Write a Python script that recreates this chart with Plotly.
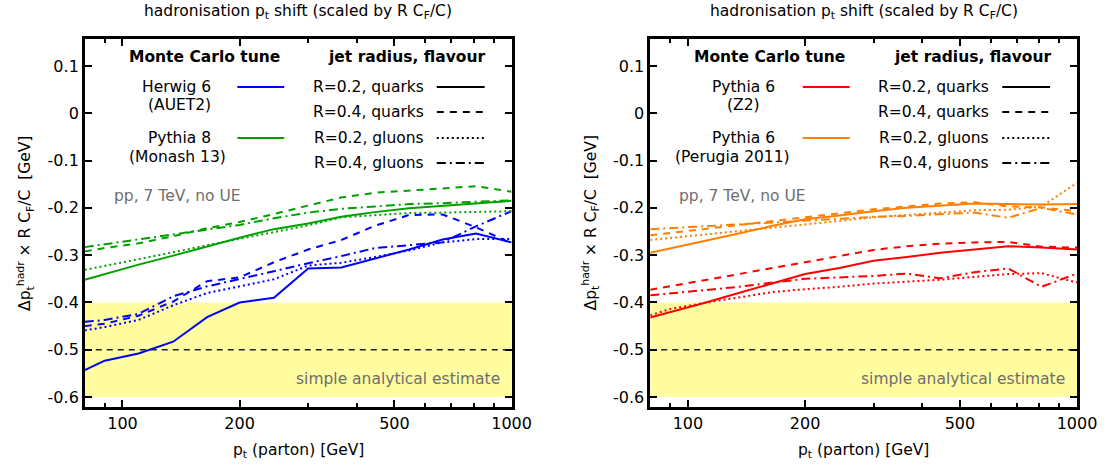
import math
import plotly.graph_objects as go

# parton transverse momentum grid [GeV]
PT = [80, 90, 110, 135, 165, 200, 245, 300, 365, 445, 545, 665, 810, 1000]

# hadronisation shift x R C_F/C [GeV] -- Herwig 6 (AUET2)
herwig_q02 = [-0.543, -0.523, -0.508, -0.483, -0.431, -0.400, -0.390, -0.328, -0.326, -0.307, -0.288, -0.267, -0.254, -0.273]
herwig_q04 = [-0.450, -0.445, -0.428, -0.398, -0.355, -0.347, -0.315, -0.288, -0.268, -0.238, -0.215, -0.214, -0.241, -0.275]
herwig_g02 = [-0.459, -0.452, -0.437, -0.406, -0.380, -0.366, -0.351, -0.322, -0.316, -0.304, -0.290, -0.273, -0.266, -0.266]
herwig_g04 = [-0.441, -0.437, -0.424, -0.387, -0.366, -0.351, -0.334, -0.317, -0.302, -0.285, -0.279, -0.273, -0.239, -0.207]

# Pythia 8 (Monash 13)
py8_q02 = [-0.352, -0.340, -0.320, -0.301, -0.281, -0.263, -0.245, -0.233, -0.219, -0.209, -0.201, -0.196, -0.191, -0.185]
py8_q04 = [-0.292, -0.285, -0.275, -0.260, -0.243, -0.230, -0.213, -0.195, -0.178, -0.168, -0.164, -0.159, -0.154, -0.166]
py8_g02 = [-0.331, -0.323, -0.308, -0.294, -0.279, -0.266, -0.251, -0.237, -0.220, -0.215, -0.211, -0.210, -0.208, -0.207]
py8_g04 = [-0.283, -0.277, -0.266, -0.256, -0.245, -0.236, -0.222, -0.210, -0.202, -0.197, -0.192, -0.190, -0.187, -0.184]

# Pythia 6 (Z2)
z2_q02 = [-0.432, -0.421, -0.401, -0.380, -0.359, -0.340, -0.327, -0.312, -0.304, -0.295, -0.288, -0.281, -0.284, -0.288]
z2_q04 = [-0.373, -0.366, -0.353, -0.340, -0.327, -0.314, -0.301, -0.289, -0.281, -0.276, -0.273, -0.272, -0.282, -0.284]
z2_g02 = [-0.427, -0.414, -0.401, -0.389, -0.378, -0.372, -0.367, -0.360, -0.356, -0.352, -0.346, -0.340, -0.338, -0.358]
z2_g04 = [-0.385, -0.381, -0.374, -0.367, -0.358, -0.350, -0.347, -0.344, -0.339, -0.349, -0.336, -0.328, -0.367, -0.339]

# Pythia 6 (Perugia 2011)
p11_q02 = [-0.295, -0.286, -0.270, -0.254, -0.238, -0.224, -0.216, -0.207, -0.200, -0.195, -0.191, -0.192, -0.193, -0.192]
p11_q04 = [-0.258, -0.253, -0.245, -0.236, -0.228, -0.219, -0.211, -0.203, -0.197, -0.191, -0.188, -0.197, -0.199, -0.207]
p11_g02 = [-0.268, -0.264, -0.257, -0.249, -0.242, -0.235, -0.227, -0.220, -0.215, -0.210, -0.205, -0.204, -0.197, -0.147]
p11_g04 = [-0.245, -0.243, -0.239, -0.235, -0.231, -0.227, -0.223, -0.219, -0.217, -0.214, -0.210, -0.221, -0.200, -0.214]

# simple analytical estimate: central value and band
ESTIMATE = -0.5
BAND_LO, BAND_HI = -0.6, -0.4

# axis ticks
Y_TICKS = [-0.6, -0.5, -0.4, -0.3, -0.2, -0.1, 0.0, 0.1]
Y_TICK_TEXT = ["-0.6", "-0.5", "-0.4", "-0.3", "-0.2", "-0.1", "0", "0.1"]
X_MAJOR = [100, 200, 500, 1000]
X_MAJOR_TEXT = ["100", "200", "500", "1000"]
X_MINOR = [90, 300, 400, 600, 700, 800, 900]
X_RANGE = [80, 1000]
Y_RANGE = [-0.621, 0.157]

BLUE, GREEN, RED, ORANGE = "#0000ff", "#00a000", "#ff0000", "#ff8000"
DASHES = {
    "q02": "solid",
    "q04": "7px,6px",
    "g02": "2px,3px",
    "g04": "9px,4px,2px,4px",
}
LEGEND_ROWS = [("q02", "R=0.2, quarks"), ("q04", "R=0.4, quarks"),
               ("g02", "R=0.2, gluons"), ("g04", "R=0.4, gluons")]

FONT = "DejaVu Sans"
FS = 15.5
TICK_FS = 16
W, H = 1115, 471
W_EFF = 1098  # usable page width for horizontal placement

# plot frames in pixels
LEFT_PX = (85, 513)
RIGHT_PX = (652, 1080)
TOP_PX, BOTTOM_PX = 39, 407

fig = go.Figure()


def add_set(series, color, xa, ya):
    for key, ys in series:
        fig.add_trace(go.Scatter(
            x=PT, y=ys, mode="lines", xaxis=xa, yaxis=ya,
            line=dict(color=color, width=2, dash=DASHES[key]),
            showlegend=False, hoverinfo="skip"))


add_set([("q02", herwig_q02), ("q04", herwig_q04), ("g02", herwig_g02), ("g04", herwig_g04)], BLUE, "x", "y")
add_set([("q02", py8_q02), ("q04", py8_q04), ("g02", py8_g02), ("g04", py8_g04)], GREEN, "x", "y")
add_set([("q02", z2_q02), ("q04", z2_q04), ("g02", z2_g02), ("g04", z2_g04)], RED, "x2", "y2")
add_set([("q02", p11_q02), ("q04", p11_q04), ("g02", p11_g02), ("g04", p11_g04)], ORANGE, "x2", "y2")


def px_x(px):
    return px / W_EFF


def xaxis(domain, anchor):
    return dict(
        type="log", range=[math.log10(X_RANGE[0]), math.log10(X_RANGE[1])],
        domain=domain, anchor=anchor,
        showline=True, linewidth=2.5, linecolor="black", mirror="allticks",
        ticks="inside", ticklen=7, tickwidth=1.5, tickcolor="black",
        tickvals=X_MAJOR, ticktext=X_MAJOR_TEXT,
        tickfont=dict(family=FONT, size=TICK_FS, color="black"),
        showgrid=False, zeroline=False,
        minor=dict(tickvals=X_MINOR, ticks="inside", ticklen=4, tickwidth=1.5,
                   tickcolor="black", showgrid=False),
    )


def yaxis(domain, anchor):
    return dict(
        range=Y_RANGE, domain=domain, anchor=anchor,
        showline=True, linewidth=2.5, linecolor="black", mirror="allticks",
        ticks="inside", ticklen=7, tickwidth=1.5, tickcolor="black",
        tickvals=Y_TICKS, ticktext=Y_TICK_TEXT,
        tickfont=dict(family=FONT, size=TICK_FS, color="black"),
        showgrid=False, zeroline=False,
    )


ydom = [1 - BOTTOM_PX / H, 1 - TOP_PX / H]
fig.update_layout(
    width=W, height=H, autosize=False, margin=dict(l=0, r=0, t=0, b=0, pad=0),
    paper_bgcolor="white", plot_bgcolor="white",
    font=dict(family=FONT, size=FS, color="black"),
    xaxis=xaxis([px_x(LEFT_PX[0]), px_x(LEFT_PX[1])], "y"),
    yaxis=yaxis(ydom, "x"),
    xaxis2=xaxis([px_x(RIGHT_PX[0]), px_x(RIGHT_PX[1])], "y2"),
    yaxis2=yaxis(ydom, "x2"),
)

shapes = []
annotations = []


def dom_x(px, frame):
    return (px - frame[0]) / (frame[1] - frame[0])


def dom_y(py):
    return (BOTTOM_PX - py) / (BOTTOM_PX - TOP_PX)


def label(xref, yref, x, y, text, xanchor="center", color="black", **extra):
    annotations.append(dict(xref=xref, yref=yref, x=x, y=y, text=text, showarrow=False,
                            xanchor=xanchor, yanchor="middle",
                            font=dict(family=FONT, size=FS, color=color), **extra))


def panel(xa, ya, frame, tunes, colors):
    xd, yd = xa + " domain", ya + " domain"
    off = frame[0] - LEFT_PX[0]
    # estimate band and its central value
    shapes.append(dict(type="rect", xref=xd, yref=ya, x0=0, x1=1, y0=BAND_LO, y1=BAND_HI,
                       fillcolor="#fffd9f", line=dict(width=0), layer="below"))
    shapes.append(dict(type="line", xref=xd, yref=ya, x0=0, x1=1, y0=ESTIMATE, y1=ESTIMATE,
                       line=dict(color="#222222", width=1.6, dash="6px,5px"), layer="below"))
    # legend headers
    label(xd, yd, dom_x(205 + off, frame), dom_y(57), "<b>Monte Carlo tune</b>")
    label(xd, yd, dom_x(408 + off, frame), dom_y(57), "<b>jet radius, flavour</b>")
    # tune names with colour samples
    for (lines, sample_y), color in zip(tunes, colors):
        for text, cx, cy in lines:
            label(xd, yd, dom_x(cx, frame), dom_y(cy), text)
        shapes.append(dict(type="line", xref=xd, yref=yd,
                           x0=dom_x(238 + off, frame), x1=dom_x(285 + off, frame),
                           y0=dom_y(sample_y), y1=dom_y(sample_y),
                           line=dict(color=color, width=2)))
    # line-style key
    for (key, text), ry in zip(LEGEND_ROWS, [87, 112, 138, 163]):
        label(xd, yd, dom_x(427 + off, frame), dom_y(ry), text, xanchor="right")
        shapes.append(dict(type="line", xref=xd, yref=yd,
                           x0=dom_x(438 + off, frame), x1=dom_x(486 + off, frame),
                           y0=dom_y(ry), y1=dom_y(ry),
                           line=dict(color="black", width=2, dash=DASHES[key])))
    label(xd, yd, dom_x(112 + off, frame), dom_y(196), "pp, 7 TeV, no UE",
          xanchor="left", color="#6e6e6e")
    label(xd, yd, dom_x(503 + off, frame), dom_y(379), "simple analytical estimate",
          xanchor="right", color="#6e6e6e")
    # titles
    cx = px_x((frame[0] + frame[1]) / 2)
    label("paper", "paper", cx, 1 - 12 / H,
          "hadronisation p<sub>t</sub> shift (scaled by R C<sub>F</sub>/C)")
    label("paper", "paper", cx, 1 - 451 / H, "p<sub>t</sub> (parton) [GeV]")
    label("paper", "paper", px_x(frame[0] - 60), 1 - (TOP_PX + BOTTOM_PX) / 2 / H,
          "Δp<sub>t</sub><sup>hadr</sup> × R C<sub>F</sub>/C  [GeV]", textangle=-90)


panel("x", "y", LEFT_PX,
      [([("Herwig 6", 177, 87), ("(AUET2)", 180, 105)], 87),
       ([("Pythia 8", 180, 138), ("(Monash 13)", 177.5, 157)], 138)],
      [BLUE, GREEN])
panel("x2", "y2", RIGHT_PX,
      [([("Pythia 6", 745.5, 87), ("(Z2)", 746, 105)], 87),
       ([("Pythia 6", 745.5, 138), ("(Perugia 2011)", 734.5, 157)], 138)],
      [RED, ORANGE])

fig.update_layout(shapes=shapes, annotations=annotations)
fig.write_html("out.html", config={"responsive": False, "displayModeBar": False})
